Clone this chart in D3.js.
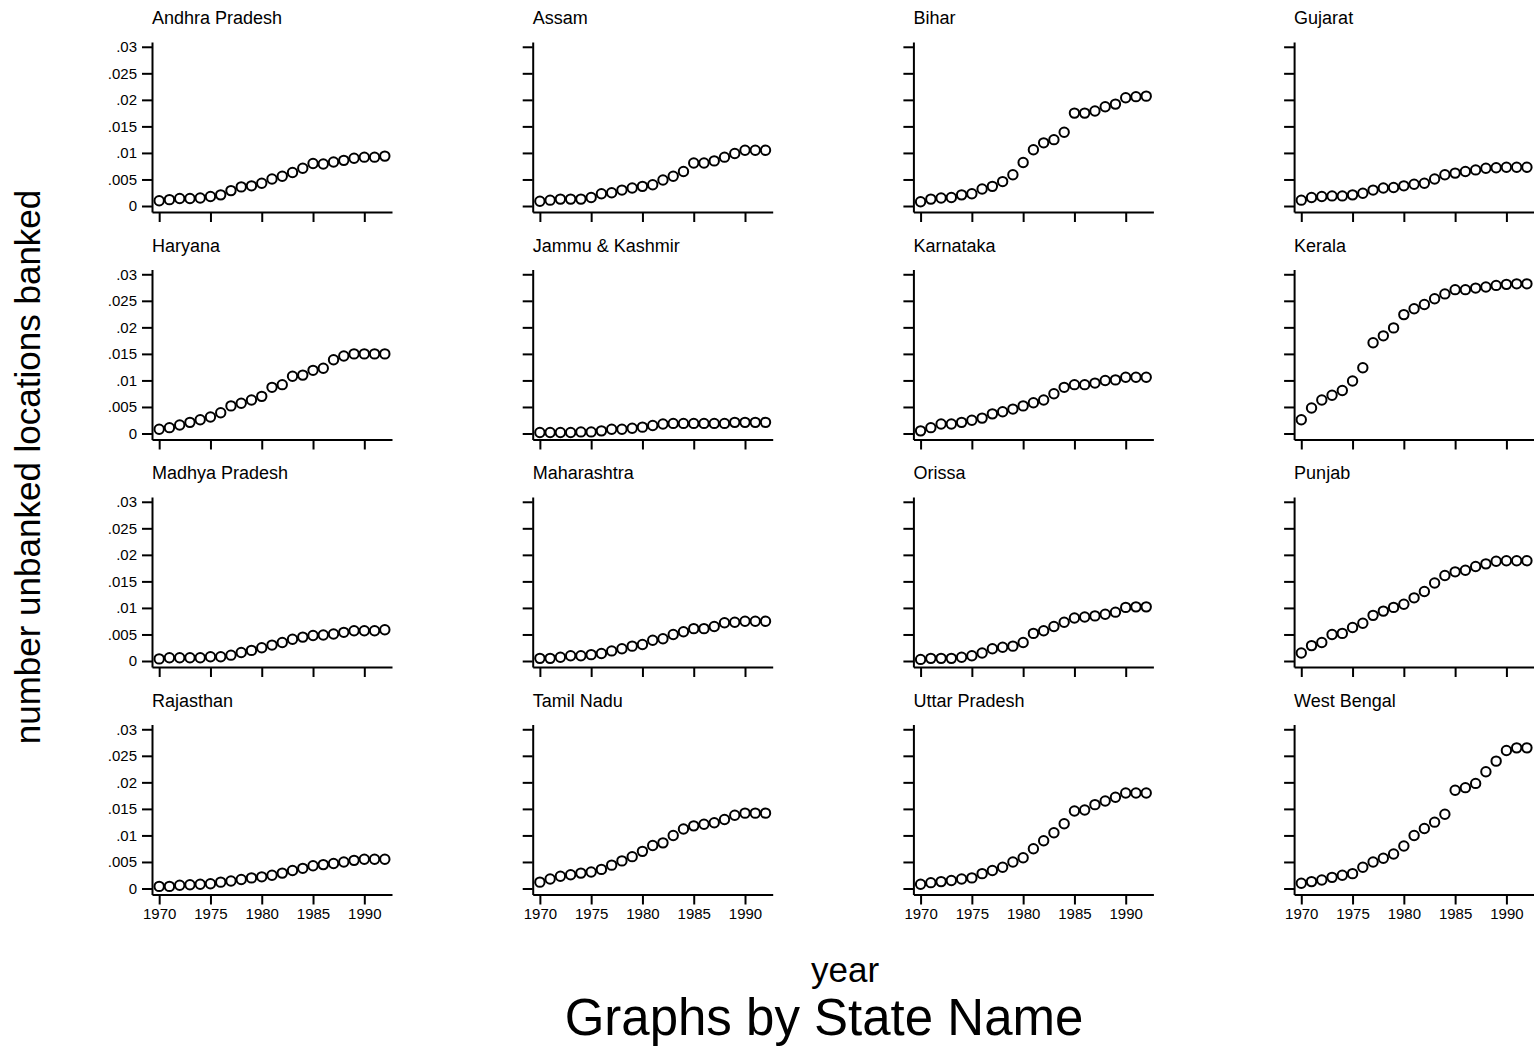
<!DOCTYPE html>
<html>
<head>
<meta charset="utf-8">
<script src="https://cdn.jsdelivr.net/npm/d3@7"></script>
<style>
  body { margin: 0; background: #fff; }
  text { font-family: "Liberation Sans", Arial, sans-serif; fill: #000; }
</style>
</head>
<body>
<div id="chart"></div>
<script>
// años de la serie
const years = d3.range(1970, 1993);

// valores, un array por estado (1970..1992)
const andhraPradesh = [0.0010, 0.0012, 0.0014, 0.0014, 0.0015, 0.0018, 0.0021, 0.0029, 0.0036, 0.0038, 0.0043, 0.0051, 0.0056, 0.0063, 0.0071, 0.0080, 0.0079, 0.0083, 0.0086, 0.0090, 0.0092, 0.0092, 0.0094];
const assam = [0.0009, 0.0011, 0.0013, 0.0013, 0.0013, 0.0016, 0.0023, 0.0025, 0.0030, 0.0034, 0.0037, 0.0040, 0.0049, 0.0056, 0.0065, 0.0081, 0.0081, 0.0085, 0.0092, 0.0099, 0.0105, 0.0105, 0.0105];
const bihar = [0.0008, 0.0013, 0.0015, 0.0016, 0.0021, 0.0023, 0.0032, 0.0037, 0.0046, 0.0059, 0.0082, 0.0106, 0.0119, 0.0125, 0.0139, 0.0175, 0.0175, 0.0179, 0.0187, 0.0192, 0.0204, 0.0206, 0.0207];
const gujarat = [0.0011, 0.0016, 0.0018, 0.0019, 0.0019, 0.0021, 0.0024, 0.0030, 0.0034, 0.0035, 0.0038, 0.0041, 0.0043, 0.0051, 0.0059, 0.0062, 0.0065, 0.0068, 0.0071, 0.0072, 0.0073, 0.0073, 0.0073];
const haryana = [0.0008, 0.0011, 0.0016, 0.0021, 0.0026, 0.0031, 0.0039, 0.0052, 0.0057, 0.0063, 0.0070, 0.0087, 0.0092, 0.0108, 0.0110, 0.0119, 0.0123, 0.0139, 0.0146, 0.0150, 0.0150, 0.0150, 0.0150];
const jammuKashmir = [0.0002, 0.0002, 0.0002, 0.0002, 0.0003, 0.0003, 0.0005, 0.0008, 0.0008, 0.0010, 0.0012, 0.0015, 0.0018, 0.0019, 0.0019, 0.0019, 0.0019, 0.0019, 0.0019, 0.0021, 0.0021, 0.0021, 0.0021];
const karnataka = [0.0005, 0.0011, 0.0018, 0.0018, 0.0021, 0.0025, 0.0029, 0.0037, 0.0041, 0.0046, 0.0052, 0.0058, 0.0063, 0.0075, 0.0087, 0.0092, 0.0092, 0.0095, 0.0100, 0.0101, 0.0106, 0.0106, 0.0106];
const kerala = [0.0026, 0.0048, 0.0063, 0.0072, 0.0081, 0.0099, 0.0124, 0.0171, 0.0184, 0.0199, 0.0224, 0.0235, 0.0243, 0.0254, 0.0263, 0.0271, 0.0271, 0.0274, 0.0276, 0.0279, 0.0281, 0.0282, 0.0282];
const madhyaPradesh = [0.0004, 0.0006, 0.0006, 0.0006, 0.0006, 0.0008, 0.0008, 0.0011, 0.0016, 0.0020, 0.0025, 0.0030, 0.0035, 0.0041, 0.0045, 0.0048, 0.0049, 0.0051, 0.0054, 0.0057, 0.0057, 0.0057, 0.0059];
const maharashtra = [0.0005, 0.0005, 0.0007, 0.0010, 0.0010, 0.0012, 0.0014, 0.0019, 0.0023, 0.0028, 0.0031, 0.0039, 0.0042, 0.0050, 0.0055, 0.0061, 0.0061, 0.0065, 0.0072, 0.0073, 0.0075, 0.0075, 0.0075];
const orissa = [0.0003, 0.0005, 0.0005, 0.0005, 0.0007, 0.0010, 0.0015, 0.0023, 0.0026, 0.0028, 0.0035, 0.0052, 0.0057, 0.0065, 0.0073, 0.0081, 0.0083, 0.0085, 0.0088, 0.0092, 0.0101, 0.0102, 0.0102];
const punjab = [0.0015, 0.0029, 0.0035, 0.0050, 0.0052, 0.0063, 0.0071, 0.0086, 0.0094, 0.0101, 0.0107, 0.0119, 0.0131, 0.0147, 0.0161, 0.0168, 0.0171, 0.0178, 0.0183, 0.0188, 0.0189, 0.0189, 0.0189];
const rajasthan = [0.0004, 0.0004, 0.0006, 0.0007, 0.0008, 0.0009, 0.0012, 0.0014, 0.0017, 0.0020, 0.0022, 0.0025, 0.0029, 0.0034, 0.0038, 0.0043, 0.0045, 0.0047, 0.0050, 0.0053, 0.0055, 0.0055, 0.0055];
const tamilNadu = [0.0012, 0.0018, 0.0023, 0.0026, 0.0029, 0.0031, 0.0036, 0.0044, 0.0052, 0.0060, 0.0070, 0.0081, 0.0086, 0.0100, 0.0112, 0.0118, 0.0121, 0.0124, 0.0130, 0.0138, 0.0142, 0.0142, 0.0142];
const uttarPradesh = [0.0008, 0.0011, 0.0013, 0.0015, 0.0018, 0.0020, 0.0028, 0.0034, 0.0040, 0.0050, 0.0058, 0.0075, 0.0090, 0.0105, 0.0122, 0.0146, 0.0148, 0.0158, 0.0165, 0.0172, 0.0180, 0.0180, 0.0180];
const westBengal = [0.0010, 0.0013, 0.0016, 0.0021, 0.0025, 0.0028, 0.0040, 0.0050, 0.0057, 0.0065, 0.0080, 0.0100, 0.0113, 0.0125, 0.0140, 0.0185, 0.0190, 0.0198, 0.0220, 0.0240, 0.0260, 0.0265, 0.0265];

const stateNames = ["Andhra Pradesh", "Assam", "Bihar", "Gujarat", "Haryana", "Jammu & Kashmir",
  "Karnataka", "Kerala", "Madhya Pradesh", "Maharashtra", "Orissa", "Punjab",
  "Rajasthan", "Tamil Nadu", "Uttar Pradesh", "West Bengal"];
const stateValues = [andhraPradesh, assam, bihar, gujarat, haryana, jammuKashmir,
  karnataka, kerala, madhyaPradesh, maharashtra, orissa, punjab,
  rajasthan, tamilNadu, uttarPradesh, westBengal];

// marcas de los ejes
const yTicks = [0, 0.005, 0.01, 0.015, 0.02, 0.025, 0.03];
const xTicks = [1970, 1975, 1980, 1985, 1990];

// Dimensiones
const width = 1534, height = 1047;
const nCols = 4;
const panelW = 240, panelH = 170;
const left0 = 152, colStep = 380.7;
const axis0 = 212, rowStep = 227.5;

const svg = d3.select("#chart").append("svg")
    .attr("width", width)
    .attr("height", height);

const x = d3.scaleLinear().domain([1969.3, 1992.7]).range([0, panelW]);
const y = d3.scaleLinear().domain([-0.00113, 0.0309]).range([panelH, 0]);

const fmtY = d => d === 0 ? "0" : d3.format(".3~f")(d).replace(/^0/, "");

stateNames.forEach((name, i) => {
    const col = i % nCols, row = Math.floor(i / nCols);
    const gx = left0 + col * colStep;
    const gy = axis0 + row * rowStep - panelH;
    const g = svg.append("g").attr("transform", `translate(${gx},${gy})`);

    // eje y
    const ya = g.append("g")
        .call(d3.axisLeft(y).tickValues(yTicks).tickSize(10).tickSizeOuter(0).tickPadding(5)
            .tickFormat(col === 0 ? fmtY : ""));
    // eje x
    const xa = g.append("g")
        .attr("transform", `translate(0,${panelH})`)
        .call(d3.axisBottom(x).tickValues(xTicks).tickSize(10).tickSizeOuter(0).tickPadding(4)
            .tickFormat(row === 3 ? d3.format("d") : ""));

    [ya, xa].forEach(a => {
        a.select(".domain").attr("stroke", "#000").attr("stroke-width", 2);
        a.selectAll(".tick line").attr("stroke", "#000").attr("stroke-width", 2);
        a.selectAll(".tick text").style("font-size", "15px").attr("fill", "#000");
    });

    // título del panel
    g.append("text")
        .attr("x", 0)
        .attr("y", -18)
        .style("font-size", "18px")
        .text(name);

    // puntos
    g.append("g")
        .selectAll("circle")
        .data(stateValues[i])
        .enter()
        .append("circle")
        .attr("cx", (d, j) => x(years[j]))
        .attr("cy", d => y(d))
        .attr("r", 4.7)
        .attr("fill", "#fff")
        .attr("stroke", "#000")
        .attr("stroke-width", 2);
});

// Títulos de los ejes
svg.append("text")
    .attr("transform", "translate(40,467) rotate(-90)")
    .attr("text-anchor", "middle")
    .style("font-size", "35px")
    .text("number unbanked locations banked");

svg.append("text")
    .attr("x", 845)
    .attr("y", 982)
    .attr("text-anchor", "middle")
    .style("font-size", "35px")
    .text("year");

svg.append("text")
    .attr("x", 824)
    .attr("y", 1035)
    .attr("text-anchor", "middle")
    .style("font-size", "51px")
    .text("Graphs by State Name");
</script>
</body>
</html>
